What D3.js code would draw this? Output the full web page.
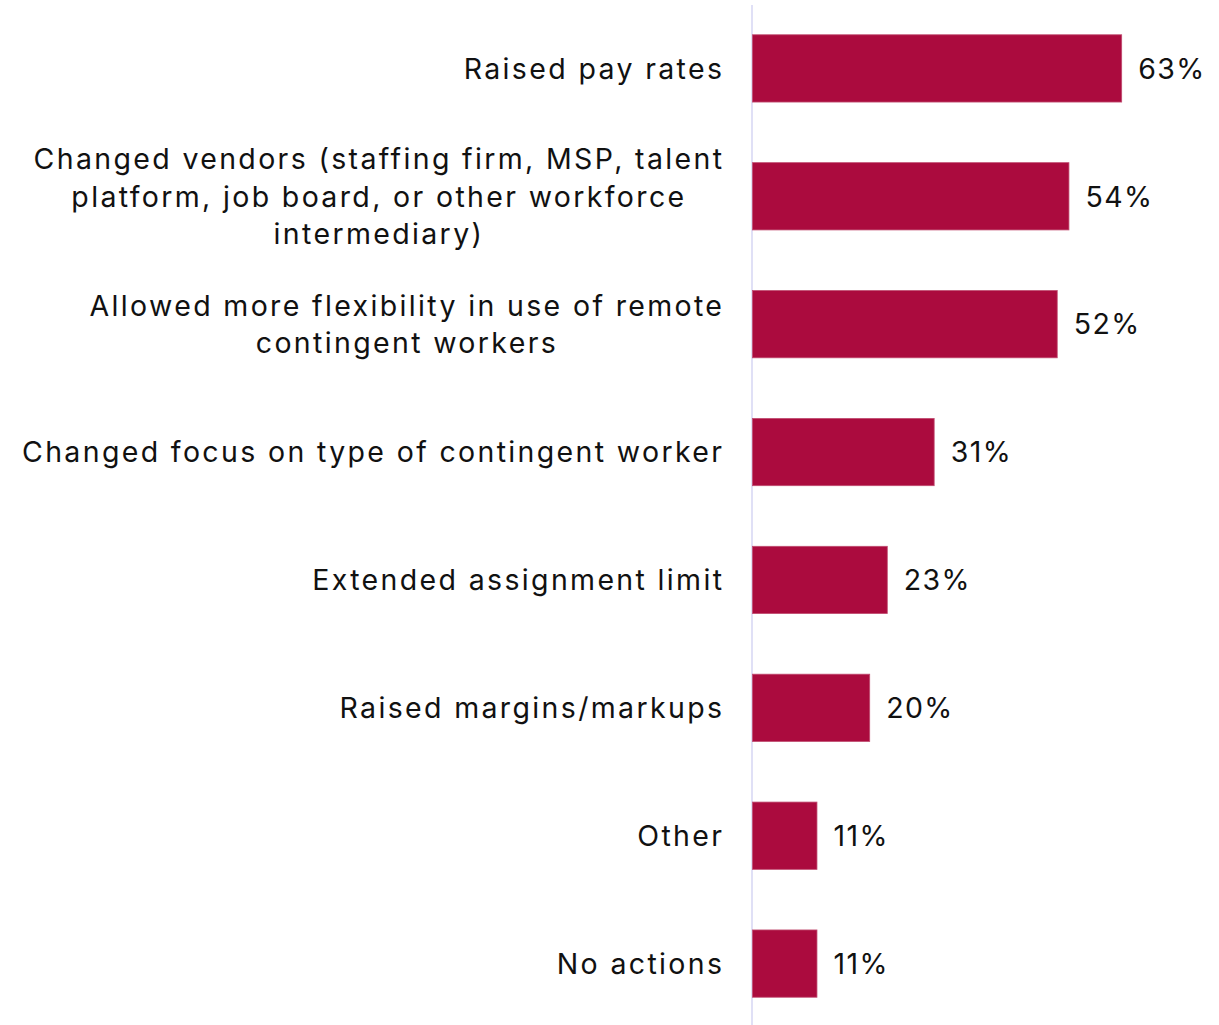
<!DOCTYPE html>
<html>
<head>
<meta charset="utf-8">
<script src="https://cdn.jsdelivr.net/npm/d3@7"></script>
<style>
  html, body { margin: 0; padding: 0; background: #ffffff; }
  svg { display: block; }
  text { font-family: Inter, "Open Sans", sans-serif; fill: #111111; }
</style>
</head>
<body>
<svg id="chart" width="1219" height="1025"></svg>
<script>
// Actions taken (share of respondents, %)
const categories = [
  "Raised pay rates",
  "Changed vendors (staffing firm, MSP, talent platform, job board, or other workforce intermediary)",
  "Allowed more flexibility in use of remote contingent workers",
  "Changed focus on type of contingent worker",
  "Extended assignment limit",
  "Raised margins/markups",
  "Other",
  "No actions"
];
// Wrapped lines for each category label
const labelLines = [
  ["Raised pay rates"],
  ["Changed vendors (staffing firm, MSP, talent", "platform, job board, or other workforce", "intermediary)"],
  ["Allowed more flexibility in use of remote", "contingent workers"],
  ["Changed focus on type of contingent worker"],
  ["Extended assignment limit"],
  ["Raised margins/markups"],
  ["Other"],
  ["No actions"]
];
const values = [63, 54, 52, 31, 23, 20, 11, 11];

const svg = d3.select("#chart");
const axisX = 752.5;
const fontSize = 28.5;
const lineHeight = 37.5;

const x = d3.scaleLinear().domain([0, 100]).range([axisX, axisX + 586]);
const y = d3.scaleBand()
  .domain(categories)
  .range([6, 1026])
  .paddingInner(0.474)
  .paddingOuter(0.225);

// Letter spacing tuned so the widest single-line label spans its space
const probe = svg.append("text").attr("font-size", fontSize).text(labelLines[3][0]);
const probeW = probe.node().getComputedTextLength();
probe.remove();
const targetW = 700;
const spacing = (targetW - probeW) / (labelLines[3][0].length - 1);

// Vertical baseline
svg.append("line")
  .attr("x1", axisX - 0.5).attr("x2", axisX - 0.5)
  .attr("y1", 5).attr("y2", 1025)
  .attr("stroke", "#d9d9f4")
  .attr("stroke-width", 1.6);

// Bars
svg.append("g").selectAll("rect")
  .data(categories)
  .join("rect")
  .attr("x", x(0))
  .attr("y", d => y(d))
  .attr("width", (d, i) => x(values[i]) - x(0))
  .attr("height", y.bandwidth())
  .attr("fill", "#ab0b3e")
  .attr("stroke", "#c04c70")
  .attr("stroke-width", 0.8);

// Value labels
svg.append("g").selectAll("text")
  .data(categories)
  .join("text")
  .attr("x", (d, i) => x(values[i]) + 16.5)
  .attr("y", d => y(d) + y.bandwidth() / 2)
  .attr("dy", "0.36em")
  .attr("font-size", fontSize)
  .style("letter-spacing", (spacing * 0.6) + "px")
  .text((d, i) => values[i] + "%");

// Category labels: lines centered on each other, block right-aligned to the axis
const labelRight = 722 + spacing;
const labelG = svg.append("g");
categories.forEach((c, i) => {
  const lines = labelLines[i];
  const cy = y(c) + y.bandwidth() / 2;
  const t = labelG.append("text")
    .attr("font-size", fontSize)
    .style("letter-spacing", spacing + "px");
  const tspans = lines.map((ln, k) => t.append("tspan")
    .attr("y", cy + (k - (lines.length - 1) / 2) * lineHeight)
    .attr("dy", "0.36em")
    .text(ln));
  const widths = tspans.map(ts => ts.node().getComputedTextLength());
  const blockW = d3.max(widths);
  const centerX = labelRight - blockW / 2;
  tspans.forEach((ts, k) => ts.attr("x", centerX - widths[k] / 2));
});
</script>
</body>
</html>
